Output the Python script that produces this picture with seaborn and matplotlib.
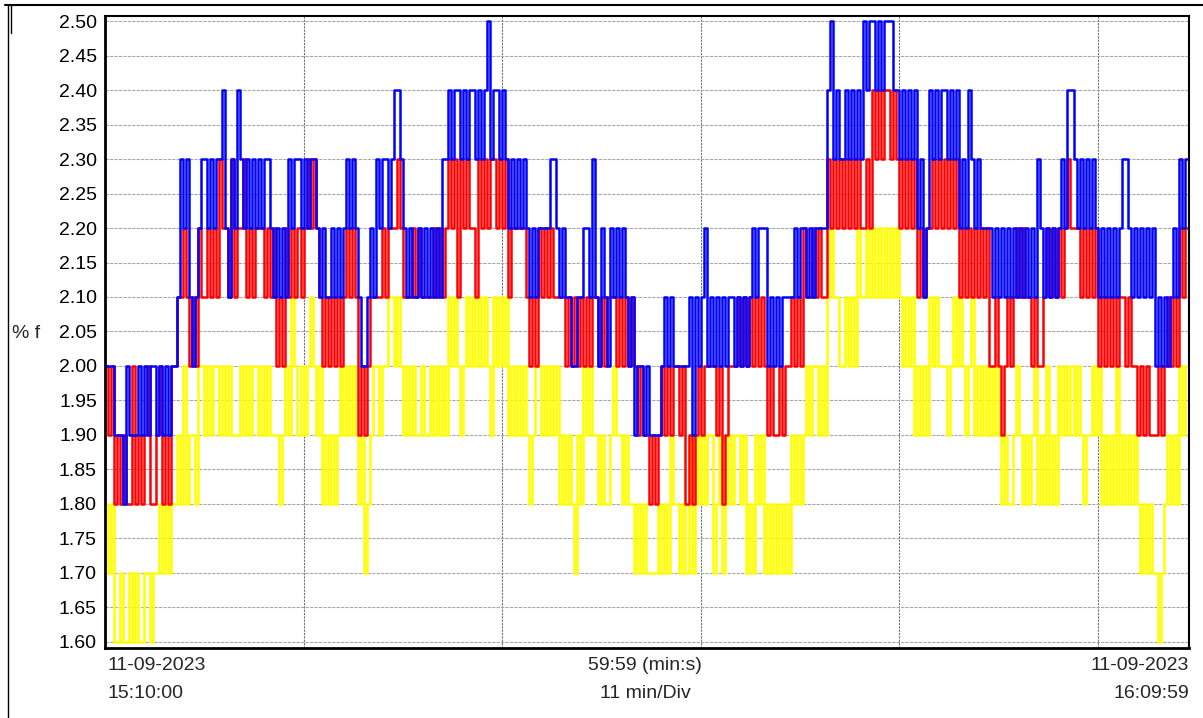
import numpy as np
import pandas as pd
import matplotlib
matplotlib.use('Agg')
import matplotlib.pyplot as plt
from matplotlib.lines import Line2D
import seaborn as sns

# one digit per 10 s sample, value = 1.6 + 0.1 * digit
SAMPLE_S = 10
END_S = 3599
BLUE_LEVELS = (
    "444" "3332" "43" "33" "434344343434" "45" "76754567" "7676778657687676767677" "656565"
    "767767677" "6565565656" "7676" "544565" "767" "7678876" "56556565656577" "87887878"
    "878789788787" "6767676" "565666677656" "5544556" "657" "5465465656545" "3443433"
    "33" "45454" "444453" "5456454545455454545" "6" "566" "645454555" "5656" "65656666" "89787"
    "7878787" "98998989998" "8787878" "6756" "8787887878" "6768767" "6666" "565656565656"
    "565765656567" "68876767676" "56565656" "77" "656565656" "45454" "565" "767"
)
RED_LEVELS = (
    "434" "23232242323422342324" "45" "56545465" "5656576657566756566656" "564546"
    "565656767" "6545454545" "6565" "343455" "556" "5666765" "55656555565656" "76757676"
    "657676776767" "5666665" "454656565555" "4545454" "545" "5454555454545" "4343323"
    "23" "43434" "434232" "3434444342344454545" "4" "545" "434334344" "5454" "65565655" "76767"
    "6767676" "67687878878" "7676767" "5656" "6767676767" "5656565" "6564" "454345456565"
    "545445656565" "67666565656" "45454545" "54" "544343433" "34345" "454" "656"
)
YELLOW_LEVELS = (
    "212" "0010010100110" "11212122" "32423324" "4343443434333434344343" "4333234"
    "354343454" "3423232343" "4343" "231234" "434" "4554543" "43433433434343" "54543454"
    "545454354545" "3434343" "234434343423" "2321324" "343" "3232234332322" "1212111"
    "12" "12132" "212131" "3232331231232332312" "1" "323" "121212121" "3232" "34344343" "56554"
    "4545465" "56565656565" "6545453" "4343" "5454443454" "5434534" "3434" "343232234323"
    "234232423243" "43434323343" "42323242" "32" "323212121" "10123" "232" "434"
)
PALETTE = {'yellow': '#FFFF00', 'red': '#FF0000', 'blue': '#0000FF'}
Y_TICKS = [1.60, 1.65, 1.70, 1.75, 1.80, 1.85, 1.90, 1.95, 2.00, 2.05,
           2.10, 2.15, 2.20, 2.25, 2.30, 2.35, 2.40, 2.45, 2.50]
DIV_S = 660  # 11 min/Div

frames = []
for name, levels in (('yellow', YELLOW_LEVELS), ('red', RED_LEVELS), ('blue', BLUE_LEVELS)):
    vals = [round(1.6 + 0.1 * int(c), 2) for c in levels]
    t = list(np.arange(len(vals)) * SAMPLE_S)
    vals.append(vals[-1])
    t.append(END_S)
    frames.append(pd.DataFrame({'t': t, 'pct': vals, 'phase': name}))
df = pd.concat(frames, ignore_index=True)

W, H = 1203, 718
sns.set_theme(style='white')
plt.rcParams['font.family'] = ['Liberation Sans', 'DejaVu Sans']
FS = 14

fig = plt.figure(figsize=(W / 100, H / 100), dpi=100)
ax = fig.add_axes([105 / W, 1 - 648 / H, (1189 - 105) / W, (648 - 16) / H])

sns.lineplot(data=df, x='t', y='pct', hue='phase', hue_order=['yellow', 'red', 'blue'],
             palette=PALETTE, drawstyle='steps-post', linewidth=1.8, estimator=None,
             sort=False, legend=False, ax=ax)

ax.set_xlim(0, 3604)
ax.set_ylim(1.5906, 2.5077)
ax.set_yticks(Y_TICKS)
ax.set_yticklabels([f'{v:.2f}' for v in Y_TICKS], fontsize=FS, color='black')
ax.set_xticks([DIV_S * k for k in range(1, 6)])
ax.tick_params(axis='both', length=0, pad=5.8)
ax.tick_params(axis='x', labelbottom=False)
ax.set_xlabel('')
ax.set_ylabel('')
ax.set_axisbelow(True)
ax.grid(axis='y', color='#a8a8a8', linestyle=(0, (3, 1)), linewidth=0.8)
ax.grid(axis='x', color='#707070', linestyle=(0, (2, 1)), linewidth=0.8)
for side, sp in ax.spines.items():
    sp.set_visible(True)
    sp.set_color('black')
    sp.set_linewidth(2.0 if side in ('left', 'bottom') else 1.5)

# labels around the plot
fig.text(12 / W, 1 - 333 / H, '% f', ha='left', va='center', fontsize=FS)
fig.text(107 / W, 1 - 666 / H, '11-09-2023', ha='left', va='center', fontsize=FS)
fig.text(107 / W, 1 - 694 / H, '15:10:00', ha='left', va='center', fontsize=FS)
fig.text(645 / W, 1 - 666 / H, '59:59 (min:s)', ha='center', va='center', fontsize=FS)
fig.text(645 / W, 1 - 694 / H, '11 min/Div', ha='center', va='center', fontsize=FS)
fig.text(1189 / W, 1 - 666 / H, '11-09-2023', ha='right', va='center', fontsize=FS)
fig.text(1189 / W, 1 - 694 / H, '16:09:59', ha='right', va='center', fontsize=FS)

# outer window border
fig.add_artist(Line2D([5 / W, 1], [1 - 4.5 / H] * 2, color='black', lw=1.5,
                      transform=fig.transFigure))
fig.add_artist(Line2D([7.5 / W] * 2, [1 - 4.5 / H, 0], color='black', lw=1.0,
                      transform=fig.transFigure))
fig.add_artist(Line2D([10.5 / W] * 2, [1 - 4.5 / H, 1 - 33 / H], color='black', lw=1.0,
                      transform=fig.transFigure))

fig.savefig('out.png', dpi=100)
